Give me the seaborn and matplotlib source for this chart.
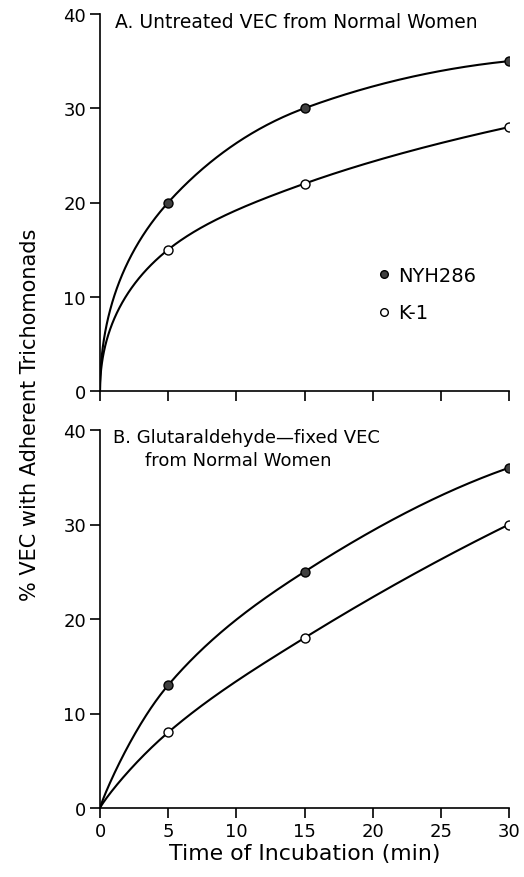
import numpy as np
import pandas as pd
import matplotlib
matplotlib.use("Agg")
import matplotlib.pyplot as plt
from matplotlib.lines import Line2D
import seaborn as sns

# ---- data ----
time_min = [0, 5, 15, 30]
a_nyh286 = [0, 20, 30, 35]
a_k1 = [0, 15, 22, 28]
b_nyh286 = [0, 13, 25, 36]
b_k1 = [0, 8, 18, 30]
strains = ["NYH286", "K-1"]
x_ticks = [0, 5, 10, 15, 20, 25, 30]
y_ticks = [0, 10, 20, 30, 40]
title_a = "A. Untreated VEC from Normal Women"
title_b1 = "B. Glutaraldehyde\u2014fixed VEC"
title_b2 = "from Normal Women"
xlabel = "Time of Incubation (min)"
ylabel = "% VEC with Adherent Trichomonads"

sns.set_style("ticks")
plt.rcParams["font.family"] = ["DejaVu Sans"]
plt.rcParams["text.color"] = "black"
plt.rcParams["xtick.color"] = "black"
plt.rcParams["ytick.color"] = "black"
plt.rcParams["axes.labelcolor"] = "black"
plt.rcParams["axes.edgecolor"] = "black"


def pchip(u, y, uu):
    """Monotone cubic Hermite (Fritsch-Carlson) smoothing for drawing."""
    u = np.asarray(u, float); y = np.asarray(y, float)
    h = np.diff(u); d = np.diff(y) / h
    n = len(u)
    m = np.zeros(n)
    for i in range(1, n - 1):
        if d[i - 1] * d[i] > 0:
            w1 = 2 * h[i] + h[i - 1]; w2 = h[i] + 2 * h[i - 1]
            m[i] = (w1 + w2) / (w1 / d[i - 1] + w2 / d[i])
    m[0] = ((2 * h[0] + h[1]) * d[0] - h[0] * d[1]) / (h[0] + h[1])
    m[-1] = ((2 * h[-1] + h[-2]) * d[-1] - h[-1] * d[-2]) / (h[-1] + h[-2])
    out = np.empty_like(uu)
    for k, t in enumerate(uu):
        i = min(max(np.searchsorted(u, t) - 1, 0), n - 2)
        s = (t - u[i]) / h[i]
        h00 = 2 * s ** 3 - 3 * s ** 2 + 1
        h10 = s ** 3 - 2 * s ** 2 + s
        h01 = -2 * s ** 3 + 3 * s ** 2
        h11 = s ** 3 - s ** 2
        out[k] = h00 * y[i] + h10 * h[i] * m[i] + h01 * y[i + 1] + h11 * h[i] * m[i + 1]
    return out


def smooth_curve(xs, ys, power):
    u = np.asarray(xs, float) ** power
    uu = np.linspace(u[0], u[-1], 400)
    return uu ** (1.0 / power), pchip(u, ys, uu)


fig = plt.figure(figsize=(5.24, 8.78), dpi=100)
ax_a = fig.add_axes([100 / 524, 1 - 392 / 878, 409 / 524, 377 / 878])
ax_b = fig.add_axes([100 / 524, 1 - 809 / 878, 409 / 524, 378 / 878])

fill_col = "#404040"
panels = [
    (ax_a, a_nyh286, a_k1, 0.5),
    (ax_b, b_nyh286, b_k1, 0.9),
]
for ax, nyh, k1, pw in panels:
    for vals, fc in [(nyh, fill_col), (k1, "white")]:
        cx, cy = smooth_curve(time_min, vals, pw)
        sns.lineplot(x=cx, y=cy, ax=ax, color="black", lw=1.5,
                     sort=False, estimator=None)
        df = pd.DataFrame({"t": time_min[1:], "v": vals[1:]})
        sns.scatterplot(data=df, x="t", y="v", ax=ax, color=fc,
                        edgecolor="black", linewidth=1.0, s=42, zorder=5)
    ax.set_xlim(0, 30)
    ax.set_ylim(0, 40)
    ax.set_xticks(x_ticks)
    ax.set_yticks(y_ticks)
    ax.set_xlabel("")
    ax.set_ylabel("")
    ax.patch.set_alpha(0)
    for s in ["top", "right"]:
        ax.spines[s].set_visible(False)
    for s in ["left", "bottom"]:
        ax.spines[s].set_linewidth(1.2)
        ax.spines[s].set_clip_on(False)
    ax.tick_params(axis="both", direction="out", length=7, width=1.2,
                   labelsize=13, pad=3, colors="black")

ax_a.tick_params(axis="x", labelbottom=False)
ax_b.set_xlabel(xlabel, fontsize=15.8, labelpad=2, color="black")

ax_a.text(0.037, 0.979, title_a, transform=ax_a.transAxes, fontsize=13.5,
          va="center", ha="left", color="black")
ax_b.text(0.032, 0.981, title_b1, transform=ax_b.transAxes, fontsize=13,
          va="center", ha="left", color="black")
ax_b.text(0.11, 0.921, title_b2, transform=ax_b.transAxes, fontsize=13,
          va="center", ha="left", color="black")

handles = [
    Line2D([], [], ls="", marker="o", mfc=fill_col, mec="black", ms=5.5),
    Line2D([], [], ls="", marker="o", mfc="white", mec="black", ms=5.5),
]
leg = ax_a.legend(handles, strains, loc="center left", bbox_to_anchor=(0.628, 0.257),
                  frameon=False, fontsize=14, handletextpad=0.2, labelspacing=0.95,
                  handlelength=1.0)
for t in leg.get_texts():
    t.set_color("black")

fig.text(30 / 524, 1 - 415 / 878, ylabel, rotation=90, fontsize=15,
         ha="center", va="center", color="black")

fig.savefig("out.png", dpi=100)
